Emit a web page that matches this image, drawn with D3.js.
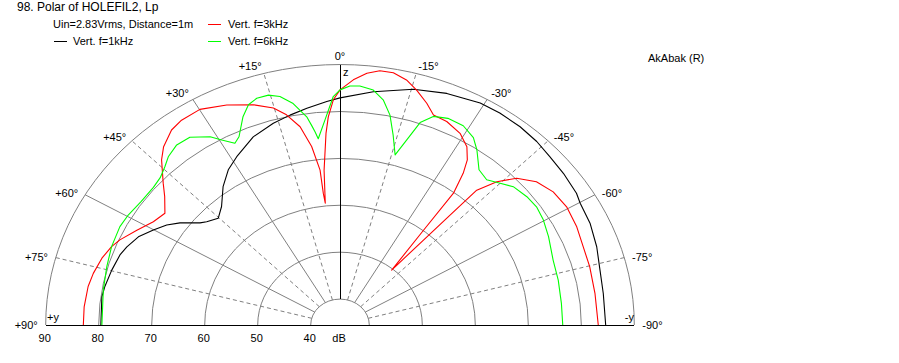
<!DOCTYPE html>
<html>
<head>
<meta charset="utf-8">
<script src="https://cdn.jsdelivr.net/npm/d3@7"></script>
<style>
  html, body { margin: 0; padding: 0; background: #fff; }
  svg { display: block; }
  text { font-family: "Liberation Sans", Arial, sans-serif; font-size: 11px; fill: #000; }
</style>
</head>
<body>
<svg id="chart" width="899" height="363"></svg>
<script>
// ---------- data ----------
const titleText = "98. Polar of HOLEFIL2, Lp";
const subtitleText = "Uin=2.83Vrms, Distance=1m";
const brandText = "AkAbak (R)";
const seriesNames = ["Vert. f=1kHz", "Vert. f=3kHz", "Vert. f=6kHz"];
const seriesColors = ["#000000", "#ff0000", "#00ff00"];
const dbTicks = [40, 50, 60, 70, 80, 90];
const angleTicks = [90, 75, 60, 45, 30, 15, 0, -15, -30, -45, -60, -75, -90];
const angleTickLabels = ["+90°", "+75°", "+60°", "+45°", "+30°", "+15°", "0°", "-15°", "-30°", "-45°", "-60°", "-75°", "-90°"];

// 1 kHz (black)
const angles1k = [90, 82.4, 79.6, 74.8, 70.2, 67.5, 63.7, 60.1, 56.9, 54.2, 50.5, 48.8, 45.3, 41.5, 36.8, 32.5, 28.5, 22.2, 16.3, 11.9, 7.7, 3.0, 0, -7.2, -15.4, -22.2, -29.2, -33.7, -38.8, -43.5, -47.8, -52.5, -57.8, -60.2, -65.3, -71, -76.6, -82.3, -90];
const db1k     = [79.6, 79.8, 79.6, 79.1, 78.6, 78.0, 76.9, 75.1, 73.5, 71.7, 68.7, 67.9, 66.8, 68.2, 71.3, 73.7, 75.3, 77.8, 79.3, 80.2, 81.1, 82.2, 82.9, 84.6, 86.6, 87.8, 88.7, 88.8, 88.7, 88.4, 87.9, 87.6, 87.2, 86.7, 86.4, 85.7, 84.9, 84.6, 84.6];

// 3 kHz (red)
const angles3k = [90, 85.4, 80.2, 76.7, 72.4, 68.8, 66.4, 62.2, 58, 54.2, 50.4, 47.8, 43.7, 41.2, 37.4, 34.4, 29.9, 24.5, 19.2, 15.2, 12.7, 10.1, 8.0, 6.5, 6.4, 6.1, 5.2, 3.7, 2.85, 1.5, 0, -2.75, -5.4, -7.9, -10.6, -13.5, -16.1, -19.1, -21.5, -24.9, -29, -32.2, -34.3, -35.7, -37.3, -38, -39.8, -41, -41.5, -41.9, -44.1, -46.8, -50.5, -54.8, -59.5, -64.9, -70, -75.2, -82, -90];
const db3k     = [82.9, 82.9, 82.7, 82.3, 81.6, 80.7, 79.8, 77.8, 76.0, 75.2, 77.4, 79.5, 83.2, 85.0, 86.8, 87.4, 87.5, 86.0, 84.2, 82.4, 80.4, 77.4, 72.9, 67.7, 62.7, 60.6, 67.6, 75.4, 78.9, 82.5, 84.6, 86.8, 88.4, 89.2, 89.2, 88.2, 86.6, 84.5, 82.6, 82.3, 81.2, 79.4, 77.1, 74.3, 69.8, 59.7, 49.7, 58.4, 64.9, 73.1, 77.0, 80.2, 82.5, 83.7, 84.1, 83.8, 83.3, 83.2, 83.05, 83.2];

// 6 kHz (green)
const angles6k = [90, 80.5, 74.2, 68.8, 63.2, 59.6, 55, 50.2, 47.2, 44.4, 42.1, 38.75, 35.3, 31.4, 29.5, 27.1, 25.4, 22.4, 20.2, 18, 15.4, 13.1, 10.6, 8.05, 7.1, 6.5, 5.9, 3.7, 1.5, 0, -2.1, -4.2, -7.15, -9.7, -11.9, -13.9, -16, -17.7, -19.3, -21.6, -24.8, -28.7, -32.2, -34.7, -38.4, -41.8, -45, -47.95, -52.2, -55.8, -59.7, -64.4, -71, -76.9, -83.7, -90];
const db6k     = [79.4, 79.75, 80.2, 80.7, 81.0, 80.8, 80.3, 80.3, 80.7, 81.7, 82.8, 83.7, 83.5, 81.5, 79.8, 78.0, 78.9, 82.5, 84.5, 85.3, 85.3, 84.5, 82.5, 79.3, 77.2, 75.9, 74.4, 78.3, 83.2, 84.6, 85.45, 85.55, 84.95, 83.1, 80.2, 76.2, 72.2, 75.9, 80.2, 82.3, 83.0, 82.9, 81.7, 79.85, 76.7, 76.0, 77.2, 78.5, 79.1, 79.3, 78.9, 78.1, 77.0, 76.75, 76.5, 76.5];

const seriesAngles = [angles1k, angles3k, angles6k];
const seriesDb = [db1k, db3k, db6k];

// ---------- layout ----------
const cx = 340, cy = 325;
const aspect = 0.885;
const rx = d3.scaleLinear().domain([40, 90]).range([29.3, 294.3]);
const ry = d3.scaleLinear().domain([40, 90]).range([29.3 * aspect, 294.3 * aspect]);
const rad = d3.scaleLinear().domain([0, 180]).range([0, Math.PI]);

function px(a, db) { return cx - rx(db) * Math.sin(rad(a)); }
function py(a, db) { return cy - ry(db) * Math.cos(rad(a)); }

const svg = d3.select("#chart");
svg.append("rect").attr("width", 899).attr("height", 363).attr("fill", "#fff");

const grid = svg.append("g").attr("shape-rendering", "crispEdges");
const gridColor = "#808080";

// rings
grid.selectAll("path.ring").data(dbTicks).join("path")
  .attr("class", "ring")
  .attr("d", d => `M ${cx - rx(d)} ${cy} A ${rx(d)} ${ry(d)} 0 0 1 ${cx + rx(d)} ${cy}`)
  .attr("fill", "none").attr("stroke", gridColor).attr("stroke-width", 1)
  .attr("shape-rendering", "auto");

// radial spokes
const spokes = angleTicks.filter(a => Math.abs(a) !== 90 && a !== 0);
grid.selectAll("line.spoke").data(spokes).join("line")
  .attr("x1", a => px(a, 40)).attr("y1", a => py(a, 40))
  .attr("x2", a => px(a, 90)).attr("y2", a => py(a, 90))
  .attr("stroke", gridColor).attr("stroke-width", 1)
  .attr("stroke-dasharray", a => (Math.abs(a) % 30 === 15) ? "4,3" : null)
  .attr("shape-rendering", "auto");

// 0° axis (black) and baseline
grid.append("line")
  .attr("x1", px(0, 40)).attr("y1", py(0, 40))
  .attr("x2", px(0, 90)).attr("y2", py(0, 90))
  .attr("stroke", "#000").attr("stroke-width", 1);
grid.append("line")
  .attr("x1", px(90, 90)).attr("y1", cy)
  .attr("x2", px(-90, 90)).attr("y2", cy)
  .attr("stroke", "#000").attr("stroke-width", 1);

// curves
const curveG = svg.append("g");
seriesAngles.forEach((angs, i) => {
  const dbs = seriesDb[i];
  const line = d3.line()
    .x(j => px(angs[j], dbs[j]))
    .y(j => py(angs[j], dbs[j]))
    .curve(d3.curveLinear);
  curveG.append("path")
    .attr("d", line(d3.range(angs.length)))
    .attr("fill", "none")
    .attr("stroke", seriesColors[i])
    .attr("stroke-width", 1.1)
    .attr("stroke-linejoin", "round");
});

// angle labels
const labG = svg.append("g");
angleTicks.forEach((a, i) => {
  const s = Math.sin(rad(Math.abs(a)));
  const c = Math.cos(rad(a));
  const gap = 8 * s;
  const x = px(a, 90) + (a > 0 ? -gap : a < 0 ? gap : 0);
  const yc = py(a, 90) - 8 * c * c;
  labG.append("text")
    .attr("x", x).attr("y", yc)
    .attr("dy", "0.35em")
    .attr("text-anchor", a > 0 ? "end" : a < 0 ? "start" : "middle")
    .text(angleTickLabels[i]);
});

// dB labels along bottom
labG.selectAll("text.db").data(dbTicks).join("text")
  .attr("class", "db")
  .attr("x", d => cx - rx(d) - 1)
  .attr("y", 342)
  .attr("text-anchor", "middle")
  .text(d => d);
labG.append("text").attr("x", cx - 1).attr("y", 342).attr("text-anchor", "middle").text("dB");

// axis letters
labG.append("text").attr("x", 47).attr("y", 321).text("+y");
labG.append("text").attr("x", 634).attr("y", 321).attr("text-anchor", "end").text("-y");
labG.append("text").attr("x", 343).attr("y", 76).text("z");

// title, subtitle, legend, brand
svg.append("text").attr("x", 17).attr("y", 11).style("font-size", "12px").text(titleText);
svg.append("text").attr("x", 53).attr("y", 28).text(subtitleText);
svg.append("text").attr("x", 648).attr("y", 62).text(brandText);

const legendPos = [
  { x1: 54, x2: 67, y: 41, tx: 73 },
  { x1: 208, x2: 221, y: 24, tx: 228 },
  { x1: 208, x2: 221, y: 41, tx: 228 }
];
seriesNames.forEach((name, i) => {
  const p = legendPos[i];
  svg.append("line").attr("x1", p.x1).attr("x2", p.x2).attr("y1", p.y + 0.5).attr("y2", p.y + 0.5)
    .attr("stroke", seriesColors[i]).attr("stroke-width", 1.5)
    .attr("shape-rendering", "crispEdges");
  svg.append("text").attr("x", p.tx).attr("y", p.y + 4).text(name);
});
</script>
</body>
</html>
